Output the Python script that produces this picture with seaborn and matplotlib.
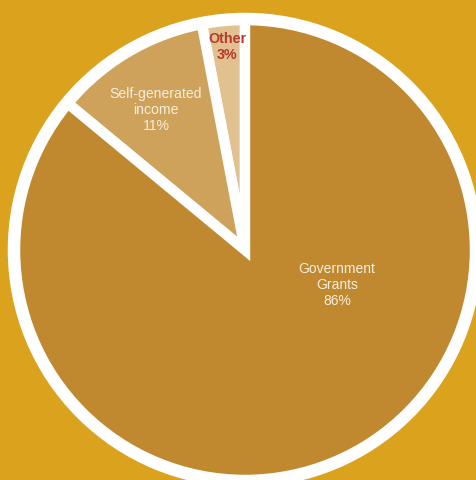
import matplotlib
matplotlib.use("Agg")
import matplotlib.pyplot as plt
import seaborn as sns
from matplotlib.patches import Circle

categories = ["Other", "Self-generated\nincome", "Government\nGrants"]
shares = [3, 11, 86]
pct_labels = ["3%", "11%", "86%"]

sns.set_theme(style="white")
plt.rcParams["font.family"] = ["Liberation Sans", "DejaVu Sans"]

bg = "#DBA21E"
colors = sns.color_palette(["#E0C18F", "#CFA25B", "#C0892F"])

W, H = 477, 480
fig = plt.figure(figsize=(W / 100, H / 100), dpi=100, facecolor=bg)
ax = fig.add_axes([0, 0, 1, 1])
ax.set_facecolor(bg)

cx, cy, R = 245, H - 250, 231
ax.pie(shares, colors=colors, startangle=90, counterclock=True,
       center=(cx, cy), radius=R,
       wedgeprops=dict(edgecolor="white", linewidth=7.5))
ax.add_patch(Circle((cx, cy), R, fill=False, edgecolor="white", linewidth=9, zorder=5))

ax.set_xlim(0, W)
ax.set_ylim(0, H)
ax.set_aspect("auto")
ax.axis("off")

# label placement (pixel positions of text centres)
pos = [(227, H - 47), (156, H - 110), (337, H - 285)]
styles = [dict(color="#B8382A", fontweight="bold", fontsize=10.3),
          dict(color="#F7EEDF", fontsize=10.1),
          dict(color="#F7EEDF", fontsize=10.0)]
for cat, pct, (x, y), st in zip(categories, pct_labels, pos, styles):
    ax.text(x, y, f"{cat}\n{pct}", ha="center", va="center",
            linespacing=1.2, zorder=6, **st)

fig.savefig("out.png", dpi=100, facecolor=bg)
